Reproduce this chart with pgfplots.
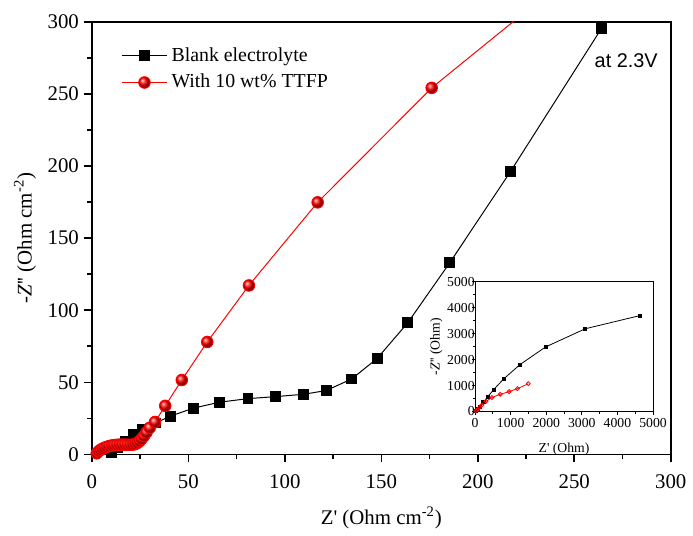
\documentclass[border=0pt]{standalone}
\usepackage{fontspec}
\setmainfont{Liberation Serif}[Ligatures=TeXOff]
\newfontfamily\arial{Liberation Sans}
\usepackage{pgfplots}
\pgfplotsset{compat=1.18}

\begin{document}
\begin{tikzpicture}
\begin{axis}[
    name=main,
    scale only axis, width=291.7pt, height=218pt,
    xmin=0, xmax=300, ymin=0, ymax=300,
    xtick={0,50,...,300}, ytick={0,50,...,300},
    minor tick num=1,
    tick pos=left, tick align=outside,
    major tick length=4pt, minor tick length=2.5pt,
    axis line style={line width=0.9pt},
    tick style={line width=0.8pt, black},
    font=\fontsize{10.5}{12}\selectfont,
    /pgf/number format/assume math mode=true,
    xticklabel style={yshift=-2.5pt},
    yticklabel style={xshift=1pt},
    xlabel={Z' (Ohm cm\textsuperscript{-2})},
    ylabel={-\textit{Z}'' (Ohm cm\textsuperscript{-2})},
    xlabel style={yshift=-2.5pt},
    ylabel style={yshift=-1pt},
    legend style={draw=none, fill=none, at={(0.04,0.96)}, anchor=north west,
                  font=\fontsize{10}{12}\selectfont, row sep=1pt},
    legend cell align=left,
    legend image code/.code={\draw[mark repeat=2,mark phase=2]
        plot coordinates {(0cm,0cm)(0.4cm,0cm)(0.8cm,0cm)};},
]
\addplot[black, line width=0.5pt, mark=square*, mark size=2.5pt] coordinates {
  (10,1.5)(13.2,4.5)(17.5,9.2)(21.8,13.8)(26,17.2)(32.9,21.8)(40.8,26.6)
  (52.6,32.1)(66,36.2)(80.9,38.7)(95.2,40.1)(109.7,41.7)(121.4,44.3)
  (134.6,52.3)(147.8,66.5)(163.7,91.3)(185.5,133)(216.9,196.1)(264,295.2)
};
\addlegendentry{Blank electrolyte}
\addplot[red, line width=0.5pt, mark=ball, mark size=2.9pt,
         mark options={ball color=red}] coordinates {
  (2.5,0.8)(3.5,2.2)(4.5,3.2)(5.5,4.0)(6.6,4.7)(7.8,5.3)(9,5.8)(10.3,6.2)
  (11.6,6.5)(13,6.7)(14.4,6.8)(15.8,6.8)(17.2,6.8)(18.6,6.7)(20,6.7)
  (21.3,6.8)(22.5,7.2)(23.6,8)(24.7,9.2)(25.8,10.8)(27,12.8)(28.3,15.3)
  (30,18.5)(32.7,22.5)(38,33.7)(46.6,51.6)(59.8,78)(81.4,117.2)
  (117,174.8)(176.1,254.2)(250,334.5)
};
\addlegendentry{With 10 wt\% TTFP}
\node[font=\arial\fontsize{10}{12}\selectfont] at (axis cs:276.9,273.4) {at 2.3V};
\end{axis}

\begin{axis}[
    at={(193.1pt,21.65pt)}, anchor=south west,
    scale only axis, width=89.65pt, height=65.35pt,
    xmin=0, xmax=5000, ymin=0, ymax=5000,
    xtick={0,1000,...,5000}, ytick={0,1000,...,5000},
    minor tick num=1,
    tick pos=left, tick align=outside,
    major tick length=1.7pt, minor tick length=1.2pt,
    axis line style={line width=0.5pt},
    tick style={line width=0.4pt, black},
    axis background/.style={fill=white},
    scaled ticks=false,
    /pgf/number format/set thousands separator={},
    /pgf/number format/assume math mode=true,
    font=\fontsize{6.9}{8}\selectfont,
    yticklabel style={xshift=5pt},
    xticklabel style={yshift=1.7pt},
    xlabel={Z' (Ohm)}, ylabel={-\textit{Z}'' (Ohm)},
    xlabel style={yshift=-1pt}, ylabel style={yshift=-4.5pt},
]
\addplot[black, line width=0.4pt, mark=square*, mark size=0.8pt] coordinates {
  (28,26)(74,89)(139,191)(232,357)(353,561)(520,842)(799,1250)
  (1264,1811)(1980,2487)(3095,3189)(4638,3699)
};
\addplot[red, line width=0.4pt, mark=o, mark size=1pt] coordinates {
  (19,26)(56,64)(121,153)(195,255)(307,395)(474,536)(706,663)
  (957,765)(1190,880)(1496,1071)
};
\end{axis}
\path[use as bounding box] (-46.3pt,-35.5pt) rectangle (300.2pt,229pt);
\end{tikzpicture}
\end{document}
